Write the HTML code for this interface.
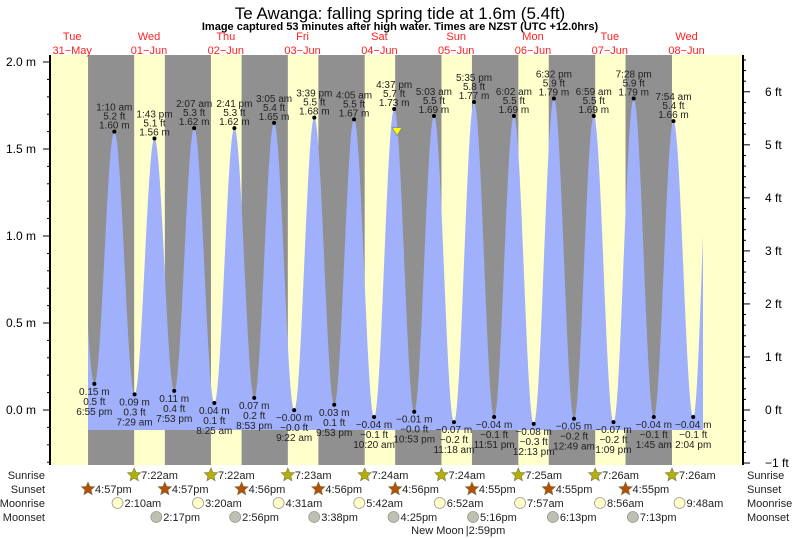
<!DOCTYPE html>
<html><head><meta charset="utf-8"><style>
html,body{margin:0;padding:0;background:#fff;}
svg{display:block;font-family:"Liberation Sans",sans-serif;}
</style></head><body>
<svg id="chart" width="793" height="538" viewBox="0 0 793 538" xmlns="http://www.w3.org/2000/svg">
<text x="400" y="19" text-anchor="middle" font-size="17">Te Awanga: falling  spring tide at 1.6m (5.4ft)</text>
<text x="400" y="30" text-anchor="middle" font-size="11" font-weight="bold">Image captured 53 minutes after high water. Times are NZST (UTC +12.0hrs)</text>
<g id="bg"></g><g id="tide"></g><g id="axes"></g><g id="labels"></g><g id="rows"></g>
</svg>
<script>
// ---- data ----
const dayNames = ["Tue","Wed","Thu","Fri","Sat","Sun","Mon","Tue","Wed"];
const dayDates = ["31-May","01-Jun","02-Jun","03-Jun","04-Jun","05-Jun","06-Jun","07-Jun","08-Jun"];
const tideDay = [0,0,1,1,1,1,2,2,2,2,3,3,3,3,4,4,4,4,5,5,5,5,6,6,6,7,7,7,7,8,8,8,8];
const tideTime = ["12:40","18:55","1:10","7:29","13:43","19:53","2:07","8:25","14:41","20:53","3:05","9:22","15:39","21:53","4:05","10:20","16:37","22:53","5:03","11:18","17:35","23:51","6:02","12:13","18:32","0:49","6:59","13:09","19:28","1:45","7:54","14:04","19:30"];
const tideHeight = [1.6,0.15,1.60,0.09,1.56,0.11,1.62,0.04,1.62,0.07,1.65,-0.001,1.68,0.03,1.67,-0.04,1.73,-0.01,1.69,-0.07,1.77,-0.04,1.69,-0.08,1.79,-0.05,1.69,-0.07,1.79,-0.04,1.66,-0.04,1.7];
const tideLabeled = [0,1,1,1,1,1,1,1,1,1,1,1,1,1,1,1,1,1,1,1,1,1,1,1,1,1,1,1,1,1,1,1,0];
const sunriseDay = [1,2,3,4,5,6,7,8];
const sunriseTime = ["7:22","7:22","7:23","7:24","7:24","7:25","7:26","7:26"];
const sunsetDay = [0,1,2,3,4,5,6,7];
const sunsetTime = ["16:57","16:57","16:56","16:56","16:56","16:55","16:55","16:55"];
const moonriseDay = [1,2,3,4,5,6,7,8];
const moonriseTime = ["2:10","3:20","4:31","5:42","6:52","7:57","8:56","9:48"];
const moonsetDay = [1,2,3,4,5,6,7];
const moonsetTime = ["14:17","14:56","15:38","16:25","17:16","18:13","19:13"];
const mTicks = [0.0,0.5,1.0,1.5,2.0];
const ftTicks = [-1,0,1,2,3,4,5,6];
const nowDay = 4, nowTime = "17:30", nowHeight = 1.6;

// ---- scales ----
const X0 = 33.8, PXDAY = 76.8, PL = 50, PR = 743, PT = 55, PB = 465;
const dataStart = 88, dataEnd = 703, fillBottom = 430;
function hrs(t){const p=t.split(":");return +p[0]+ +p[1]/60;}
function xt(d,t){return X0 + (d + hrs(t)/24)*PXDAY;}
function ym(m){return 410 - m*174;}
function fmtTime(t, sp){let p=t.split(":"),h=+p[0];const ap=h<12?"am":"pm";h=h%12;if(h===0)h=12;return h+":"+p[1]+(sp?" ":"")+ap;}
function neg(s){return s.replace("-","\u2212");}
const NS="http://www.w3.org/2000/svg";
function el(tag,attrs,parent,text){const e=document.createElementNS(NS,tag);for(const k in attrs)e.setAttribute(k,attrs[k]);if(text!==undefined)e.textContent=text;parent.appendChild(e);return e;}
const bg=document.getElementById("bg"),tide=document.getElementById("tide"),axes=document.getElementById("axes"),labels=document.getElementById("labels"),rows=document.getElementById("rows");

// ---- day/night background ----
let r=el("rect",{x:PL,y:PT,width:PR-PL,height:PB-PT,fill:"#ffffcc"},bg);


for(let i=0;i<sunsetDay.length;i++){
  const x1=Math.max(PL,xt(sunsetDay[i],sunsetTime[i]));
  const x2=Math.min(PR,xt(sunriseDay[i],sunriseTime[i]));
  const n=el("rect",{x:x1,y:PT,width:x2-x1,height:PB-PT,fill:"#909090"},bg);
  
  
}
for(let d=0;d<dayNames.length;d++){
  const cx=xt(d,"12:00");
  const t1=el("text",{x:cx,y:40,"text-anchor":"middle","font-size":"11",fill:"#ff2020"},bg,dayNames[d]);
  
  
  const t2=el("text",{x:cx,y:54,"text-anchor":"middle","font-size":"11",fill:"#ff2020"},bg,neg(dayDates[d]));
  
  
}

// ---- tide curve ----
const tx=tideTime.map((t,i)=>xt(tideDay[i],t));
function heightAt(x){
  for(let i=0;i<tx.length-1;i++){
    if(x>=tx[i]&&x<=tx[i+1]){const f=(x-tx[i])/(tx[i+1]-tx[i]);return tideHeight[i]+(tideHeight[i+1]-tideHeight[i])*(1-Math.cos(Math.PI*f))/2;}
  }
  return 0;
}
let d="M"+dataStart+","+fillBottom;
for(let x=dataStart;x<=dataEnd;x+=0.5){d+=" L"+x+","+ym(heightAt(x)).toFixed(2);}
d+=" L"+dataEnd+","+fillBottom+" Z";
const area=el("path",{d:d,fill:"#a0b0fa"},tide);



for(let i=0;i<tx.length;i++){
  if(!tideLabeled[i])continue;
  const x=tx[i],y=ym(tideHeight[i]);
  const high=(i===0?false:tideHeight[i]>tideHeight[i-1]);
  const dot=el("circle",{cx:x,cy:y,r:2,fill:"#000"},labels);
  
  
  const m=neg(tideHeight[i].toFixed(2))+" m", ft=neg((tideHeight[i]*3.28084).toFixed(1))+" ft", tm=fmtTime(tideTime[i],true);
  const lines=high?[[tm,y-21],[ft,y-12],[m,y-3]]:[[m,y+11],[ft,y+21],[tm,y+31]];
  for(const L of lines){
    const t=el("text",{x:x,y:L[1],"text-anchor":"middle","font-size":"10",fill:"#222"},labels,L[0]);
    
    
  }
}
const nx=xt(nowDay,nowTime),ny=ym(nowHeight);
const tri=el("path",{d:`M${nx-5},${ny-4} L${nx+5},${ny-4} L${nx},${ny+4} Z`,fill:"#ffff00",stroke:"#888","stroke-width":"0.8"},labels);



// ---- axes ----
let a=el("line",{x1:PL,y1:PT,x2:PL,y2:PB,stroke:"#000","stroke-width":"2"},axes);


a=el("line",{x1:PR,y1:PT,x2:PR,y2:PB,stroke:"#000","stroke-width":"2"},axes);


for(let k=-3;k<=20;k++){
  const y=ym(k/10);if(y<PT||y>PB)continue;
  el("line",{x1:PL-(k%5===0?7:3),y1:y,x2:PL,y2:y,stroke:"#000"},axes);
}
for(const v of mTicks){
  const t=el("text",{x:36,y:ym(v)+4,"text-anchor":"end","font-size":"12"},axes,v.toFixed(1)+" m");
  
  
}
for(let k=-5;k<=33;k++){
  const y=ym(k*0.2*0.3048);if(y<PT||y>PB+1)continue;
  el("line",{x1:PR,y1:y,x2:PR+(k%5===0?7:3),y2:y,stroke:"#000"},axes);
}
for(const v of ftTicks){
  const t=el("text",{x:765,y:ym(v*0.3048)+4,"font-size":"12"},axes,neg(String(v))+" ft");
  
  
}

// ---- sun/moon rows ----
const rowY={Sunrise:475,Sunset:489,Moonrise:503,Moonset:517};
for(const k in rowY){
  let t=el("text",{x:45,y:rowY[k]+4,"text-anchor":"end","font-size":"11",fill:"#222"},rows,k);
  
  
  t=el("text",{x:747,y:rowY[k]+4,"font-size":"11",fill:"#222"},rows,k);
  
  
}
function star(cx,cy,col){let p="";for(let i=0;i<10;i++){const rr=i%2?3.2:7;const ang=-Math.PI/2+i*Math.PI/5;p+=(i?"L":"M")+(cx+rr*Math.cos(ang)).toFixed(1)+","+(cy+rr*Math.sin(ang)).toFixed(1);}return el("path",{d:p+"Z",fill:col,stroke:"#775","stroke-width":"0.6"},rows);}
function addRow(days,times,kind){
  for(let i=0;i<days.length;i++){
    const x=xt(days[i],times[i]),y=rowY[kind];
    let ic;
    if(kind==="Sunrise")ic=star(x,y,"#b5b000");
    else if(kind==="Sunset")ic=star(x,y,"#b45000");
    else ic=el("circle",{cx:x,cy:y,r:5.5,fill:kind==="Moonrise"?"#ffffc8":"#c0c0b0",stroke:"#999","stroke-width":"0.8"},rows);
    
    
    const t=el("text",{x:x+7,y:y+4,"font-size":"11",fill:"#222"},rows,fmtTime(times[i],false));
    
    
  }
}
addRow(sunriseDay,sunriseTime,"Sunrise");
addRow(sunsetDay,sunsetTime,"Sunset");
addRow(moonriseDay,moonriseTime,"Moonrise");
addRow(moonsetDay,moonsetTime,"Moonset");
const nmx=xt(5,"14:59");
const nm=el("text",{x:nmx-2,y:534,"text-anchor":"end","font-size":"11",fill:"#222"},rows,"New Moon");


const nm2=el("text",{x:nmx,y:534,"font-size":"11",fill:"#222"},rows,"|2:59pm");


</script>
</body></html>
